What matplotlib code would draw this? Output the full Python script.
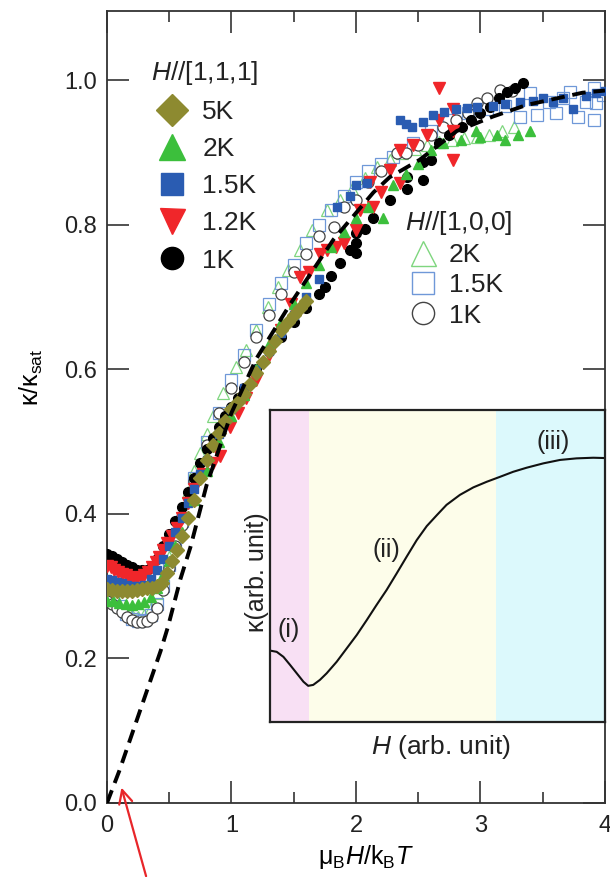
import matplotlib
matplotlib.use("Agg")
import matplotlib.pyplot as plt
from matplotlib.lines import Line2D

plt.rcParams['font.family'] = ['Liberation Sans', 'DejaVu Sans']
plt.rcParams['mathtext.fontset'] = 'custom'
plt.rcParams['mathtext.rm'] = 'Liberation Sans'
plt.rcParams['mathtext.it'] = 'Liberation Sans:italic'
plt.rcParams['text.color'] = '#222222'

# ---- H // [1,1,1] (filled symbols) ----
x_5k = [0.0, 0.04, 0.08, 0.12, 0.16, 0.2, 0.24, 0.28, 0.32, 0.36, 0.4, 0.44, 0.48, 0.52, 0.56,
        0.6, 0.65, 0.7, 0.75, 0.8, 0.85, 0.9, 0.95, 1.0, 1.05, 1.1, 1.15, 1.2, 1.25, 1.3, 1.35,
        1.4, 1.45, 1.5, 1.55, 1.6]
y_5k = [0.296, 0.295, 0.294, 0.293, 0.293, 0.294, 0.295, 0.296, 0.297, 0.298, 0.3, 0.305, 0.318,
        0.335, 0.35, 0.37, 0.395, 0.42, 0.45, 0.475, 0.495, 0.512, 0.528, 0.545, 0.555, 0.566,
        0.58, 0.595, 0.61, 0.625, 0.64, 0.655, 0.665, 0.675, 0.685, 0.695]

x_2k = [0.0, 0.05, 0.1, 0.15, 0.2, 0.25, 0.3, 0.35, 0.4, 0.45, 0.5, 0.55, 0.6, 0.7, 0.8, 0.9,
        1.0, 1.1, 1.2, 1.3, 1.4, 1.5, 1.6, 1.7, 1.8, 1.9, 2.0, 2.1, 2.22, 2.3, 2.4, 2.5, 2.6,
        2.7, 2.84, 2.96, 3.0, 3.13, 3.2, 3.3, 3.4]
y_2k = [0.28, 0.279, 0.277, 0.275, 0.274, 0.275, 0.278, 0.285, 0.298, 0.315, 0.335, 0.355,
        0.375, 0.42, 0.46, 0.5, 0.535, 0.565, 0.6, 0.635, 0.665, 0.69, 0.72, 0.745, 0.77, 0.79,
        0.81, 0.825, 0.81, 0.855, 0.87, 0.885, 0.904, 0.913, 0.918, 0.93, 0.922, 0.925, 0.918,
        0.925, 0.93]

x_15k = [0.0, 0.04, 0.08, 0.12, 0.16, 0.2, 0.25, 0.3, 0.35, 0.4, 0.45, 0.5, 0.55, 0.6, 0.65,
         0.7, 0.75, 0.8, 0.9, 1.0, 1.1, 1.2, 1.3, 1.4, 1.5, 1.6, 1.7, 1.85, 1.95, 2.0, 2.09,
         2.35, 2.4, 2.45, 2.54, 2.62, 2.71, 2.8, 2.89, 2.97, 3.1, 3.2, 3.32, 3.42, 3.5, 3.58,
         3.66, 3.74, 3.85, 3.93, 4.0]
y_15k = [0.31, 0.308, 0.306, 0.304, 0.302, 0.3, 0.3, 0.302, 0.31, 0.322, 0.338, 0.356, 0.375,
         0.395, 0.415, 0.435, 0.455, 0.475, 0.51, 0.545, 0.575, 0.6, 0.625, 0.65, 0.675, 0.7,
         0.725, 0.825, 0.84, 0.855, 0.858, 0.945, 0.94, 0.936, 0.943, 0.952, 0.956, 0.96, 0.962,
         0.963, 0.965, 0.968, 0.97, 0.972, 0.976, 0.97, 0.975, 0.96, 0.978, 0.983, 0.985]

x_12k = [0.0, 0.03, 0.06, 0.09, 0.12, 0.15, 0.18, 0.21, 0.24, 0.27, 0.3, 0.33, 0.36, 0.39, 0.42,
         0.45, 0.48, 0.52, 0.56, 0.6, 0.65, 0.7, 0.77, 0.85, 0.91, 0.99, 1.05, 1.12, 1.2, 1.3,
         1.4, 1.48, 1.55, 1.62, 1.71, 1.77, 1.84, 1.9, 2.0, 2.03, 2.11, 2.14, 2.2, 2.27, 2.35,
         2.35, 2.46, 2.57, 2.67, 2.67, 2.78, 2.78, 2.78]
y_12k = [0.328, 0.326, 0.323, 0.32, 0.317, 0.315, 0.313, 0.312, 0.312, 0.313, 0.316, 0.32,
         0.326, 0.333, 0.341, 0.35, 0.36, 0.37, 0.38, 0.395, 0.415, 0.435, 0.455, 0.47, 0.48,
         0.52, 0.54, 0.56, 0.585, 0.62, 0.655, 0.69, 0.728, 0.735, 0.76, 0.765, 0.77, 0.775,
         0.793, 0.82, 0.86, 0.825, 0.845, 0.876, 0.858, 0.904, 0.91, 0.925, 0.945, 0.99, 0.93,
         0.96, 0.89]

x_1k = [0.0, 0.04, 0.08, 0.12, 0.16, 0.2, 0.24, 0.28, 0.32, 0.36, 0.4, 0.45, 0.5, 0.55, 0.6,
        0.65, 0.7, 0.75, 0.8, 0.85, 0.9, 0.95, 1.0, 1.05, 1.1, 1.2, 1.3, 1.4, 1.5, 1.6, 1.7,
        1.75, 1.8, 1.87, 1.95, 2.0, 2.0, 2.0, 2.07, 2.14, 2.27, 2.41, 2.41, 2.54, 2.54, 2.6,
        2.67, 2.75, 2.85, 2.92, 3.0, 3.08, 3.15, 3.21, 3.28, 3.34]
y_1k = [0.345, 0.342, 0.338, 0.334, 0.33, 0.326, 0.323, 0.322, 0.323, 0.328, 0.338, 0.355,
        0.372, 0.39, 0.41, 0.43, 0.45, 0.47, 0.49, 0.505, 0.52, 0.535, 0.548, 0.56, 0.575, 0.6,
        0.625, 0.645, 0.665, 0.685, 0.705, 0.714, 0.73, 0.747, 0.765, 0.789, 0.775, 0.761,
        0.795, 0.81, 0.835, 0.866, 0.85, 0.887, 0.862, 0.89, 0.913, 0.925, 0.935, 0.945, 0.955,
        0.963, 0.975, 0.984, 0.99, 0.996]

# ---- H // [1,0,0] (open symbols) ----
xo_2k = [0.0, 0.05, 0.1, 0.15, 0.2, 0.25, 0.3, 0.35, 0.4, 0.45, 0.5, 0.55, 0.6, 0.65, 0.7,
         0.75, 0.8, 0.85, 0.93, 1.04, 1.12, 1.2, 1.29, 1.37, 1.45, 1.55, 1.65, 1.77, 1.87, 1.97,
         2.07, 2.17, 2.27, 2.37, 2.47, 2.57, 2.67, 2.77, 2.87, 2.97, 3.07, 3.17, 3.27]
yo_2k = [0.285, 0.28, 0.272, 0.265, 0.26, 0.258, 0.26, 0.27, 0.29, 0.315, 0.34, 0.37, 0.4,
         0.43, 0.46, 0.485, 0.51, 0.535, 0.567, 0.603, 0.627, 0.655, 0.687, 0.714, 0.738, 0.765,
         0.793, 0.82, 0.835, 0.85, 0.865, 0.88, 0.89, 0.9, 0.905, 0.91, 0.915, 0.918, 0.92,
         0.922, 0.925, 0.93, 0.935]

xo_15k = [0.0, 0.05, 0.1, 0.15, 0.2, 0.25, 0.3, 0.35, 0.4, 0.45, 0.5, 0.55, 0.6, 0.7, 0.8, 0.9,
          1.0, 1.1, 1.2, 1.3, 1.4, 1.5, 1.6, 1.7, 1.8, 1.9, 2.0, 2.1, 2.2, 2.3, 2.46, 2.6, 2.75,
          2.9, 3.05, 3.2, 3.32, 3.4, 3.45, 3.55, 3.61, 3.66, 3.72, 3.78, 3.85, 3.91, 3.91, 3.93,
          3.98]
yo_15k = [0.29, 0.283, 0.272, 0.262, 0.255, 0.252, 0.253, 0.26, 0.275, 0.3, 0.33, 0.36, 0.39,
          0.45, 0.5, 0.54, 0.585, 0.62, 0.655, 0.69, 0.72, 0.745, 0.775, 0.8, 0.82, 0.84, 0.86,
          0.875, 0.885, 0.894, 0.913, 0.93, 0.945, 0.955, 0.96, 0.965, 0.95, 0.983, 0.952, 0.97,
          0.955, 0.975, 0.984, 0.95, 0.97, 0.99, 0.945, 0.969, 0.98]

xo_1k = [0.0, 0.04, 0.08, 0.12, 0.16, 0.2, 0.24, 0.28, 0.32, 0.36, 0.4, 0.45, 0.5, 0.55, 0.6,
         0.7, 0.8, 0.9, 1.0, 1.1, 1.2, 1.3, 1.4, 1.5, 1.6, 1.7, 1.82, 1.9, 2.0, 2.1, 2.2, 2.33,
         2.4, 2.5, 2.6, 2.7, 2.8, 2.9, 2.97, 3.05, 3.16, 3.25]
yo_1k = [0.28, 0.275, 0.27, 0.264, 0.258, 0.253, 0.25, 0.25, 0.252, 0.258, 0.27, 0.295, 0.325,
         0.355, 0.385, 0.445, 0.495, 0.54, 0.575, 0.61, 0.645, 0.675, 0.705, 0.735, 0.76, 0.785,
         0.797, 0.825, 0.835, 0.86, 0.875, 0.9, 0.9, 0.91, 0.925, 0.935, 0.945, 0.955, 0.969,
         0.975, 0.987, 0.985]

# dashed guide curve
x_fit = [0.0, 0.1, 0.2, 0.3, 0.43, 0.49, 0.59, 0.67, 0.8, 1.0, 1.2, 1.47, 1.82, 2.14, 2.27,
         2.51, 2.81, 3.1, 3.37, 3.82, 4.0]
y_fit = [0.0, 0.045, 0.095, 0.145, 0.21, 0.244, 0.31, 0.354, 0.44, 0.54, 0.615, 0.69, 0.78,
         0.845, 0.866, 0.89, 0.93, 0.95, 0.966, 0.983, 0.986]

# inset schematic curve (arb. units)
x_in = [0.0, 0.02, 0.04, 0.06, 0.08, 0.1, 0.114, 0.129, 0.149, 0.169, 0.199, 0.229, 0.259,
        0.289, 0.318, 0.348, 0.378, 0.408, 0.438, 0.468, 0.498, 0.527, 0.567, 0.607, 0.647,
        0.687, 0.726, 0.766, 0.816, 0.866, 0.915, 0.965, 1.0]
y_in = [0.229, 0.225, 0.209, 0.183, 0.156, 0.129, 0.116, 0.119, 0.135, 0.156, 0.193, 0.236,
        0.279, 0.327, 0.375, 0.423, 0.476, 0.53, 0.583, 0.628, 0.663, 0.696, 0.728, 0.752,
        0.77, 0.786, 0.802, 0.815, 0.829, 0.84, 0.845, 0.847, 0.846]
regions = [(0.0, 0.117, '#f8e0f4'), (0.117, 0.674, '#fdfdea'), (0.674, 1.0, '#dcf9fc')]

c_olive = '#8d8a30'
c_green = '#3cbf3c'
c_blue = '#2a5cb2'
c_red = '#f0262a'
c_og = '#7fd67f'
c_ob = '#6f98d8'
c_oc = '#444444'

fig = plt.figure(figsize=(6.1, 8.77), dpi=100)
ax = fig.add_axes([0.1754, 0.0844, 0.8164, 0.903])

ax.plot(xo_2k, yo_2k, ls='none', marker='^', ms=8, mfc='none', mec=c_og, mew=0.9, zorder=2)
ax.plot(xo_15k, yo_15k, ls='none', marker='s', ms=8, mfc='none', mec=c_ob, mew=0.9, zorder=2)
ax.plot(xo_1k, yo_1k, ls='none', marker='o', ms=8, mfc='white', mec=c_oc, mew=0.9, zorder=2)

ax.plot(x_1k, y_1k, ls='none', marker='o', ms=7, color='black', zorder=3)
ax.plot(x_12k, y_12k, ls='none', marker='v', ms=9, color=c_red, zorder=3)
ax.plot(x_15k, y_15k, ls='none', marker='s', ms=5.5, color=c_blue, zorder=3)
ax.plot(x_2k, y_2k, ls='none', marker='^', ms=7, color=c_green, zorder=3)
ax.plot(x_5k, y_5k, ls='none', marker='D', ms=7, color=c_olive, zorder=3)

ax.plot(x_fit, y_fit, color='black', lw=2.8, dashes=(3.5, 2), zorder=5)

ax.set_xlim(0, 4)
ax.set_ylim(0, 1.096)
ax.set_xticks([0, 1, 2, 3, 4])
ax.set_xticks([0.5, 1.5, 2.5, 3.5], minor=True)
ax.set_yticks([0.0, 0.2, 0.4, 0.6, 0.8, 1.0])
ax.set_yticklabels(['0.0', '0.2', '0.4', '0.6', '0.8', '1.0'])
ax.tick_params(which='both', direction='in', top=True, right=True, color='#333333',
               labelsize=17, labelcolor='#222222')
ax.tick_params(which='major', length=16, width=1.2)
ax.tick_params(which='minor', length=8, width=1.2)
ax.tick_params(axis='y', pad=7)
ax.tick_params(axis='x', pad=9)
for s in ax.spines.values():
    s.set_color('#333333')
    s.set_linewidth(1.3)

ax.set_xlabel(r'$\mathrm{\mu_B}\mathit{H}/\mathrm{k_B}\mathit{T}$', fontsize=18)
ax.xaxis.set_label_coords(0.52, -0.051)
ax.set_ylabel(r'κ/κ$_\mathrm{sat}$', fontsize=18)
ax.yaxis.set_label_coords(-0.125, 0.537)

ax.annotate('', xy=(0.11, 0.025), xytext=(0.32, -0.105),
            arrowprops=dict(arrowstyle='->', color='#e8262a', lw=1.6, mutation_scale=24),
            annotation_clip=False)

h1 = [Line2D([], [], ls='none', marker='D', ms=16, color=c_olive),
      Line2D([], [], ls='none', marker='^', ms=19, color=c_green),
      Line2D([], [], ls='none', marker='s', ms=16, color=c_blue),
      Line2D([], [], ls='none', marker='v', ms=18, color=c_red),
      Line2D([], [], ls='none', marker='o', ms=16, color='black')]
leg1 = ax.legend(h1, ['5K', '2K', '1.5K', '1.2K', '1K'], title=r'$\mathit{H}$//[1,1,1]',
                 loc='upper left', bbox_to_anchor=(0.088, 0.94), frameon=False, fontsize=19,
                 title_fontsize=19, alignment='left', handletextpad=0.35, labelspacing=0.5,
                 borderpad=0, borderaxespad=0, handlelength=1.6)
ax.add_artist(leg1)

h2 = [Line2D([], [], ls='none', marker='^', ms=18, mfc='none', mec=c_og, mew=1.0),
      Line2D([], [], ls='none', marker='s', ms=16, mfc='none', mec=c_ob, mew=1.0),
      Line2D([], [], ls='none', marker='o', ms=16, mfc='none', mec=c_oc, mew=1.0)]
ax.legend(h2, ['2K', '1.5K', '1K'], title=r'$\mathit{H}$//[1,0,0]',
          loc='upper left', bbox_to_anchor=(0.57, 0.769), frameon=False, fontsize=19,
          title_fontsize=19, alignment='left', handletextpad=0.35, labelspacing=0.24,
          borderpad=0.55, borderaxespad=0, handlelength=1.3)

# inset
axin = fig.add_axes([0.4426, 0.1767, 0.5492, 0.3558])
for a, b, c in regions:
    axin.axvspan(a, b, color=c, lw=0)
axin.plot(x_in, y_in, color='#111111', lw=1.5)
axin.set_xlim(0, 1)
axin.set_ylim(0, 1)
axin.set_xticks([])
axin.set_yticks([])
for s in axin.spines.values():
    s.set_color('#222222')
    s.set_linewidth(1.6)
axin.text(0.055, 0.295, '(i)', fontsize=18, ha='center', va='center')
axin.text(0.348, 0.551, '(ii)', fontsize=18, ha='center', va='center')
axin.text(0.846, 0.898, '(iii)', fontsize=18, ha='center', va='center')
fig.text(257 / 610, 1 - 572 / 877, 'κ(arb. unit)', rotation=90, fontsize=18,
         ha='center', va='center')
fig.text(441 / 610, 1 - 747 / 877, r'$\mathit{H}$ (arb. unit)', fontsize=19,
         ha='center', va='center')

fig.savefig('out.png', dpi=100)
